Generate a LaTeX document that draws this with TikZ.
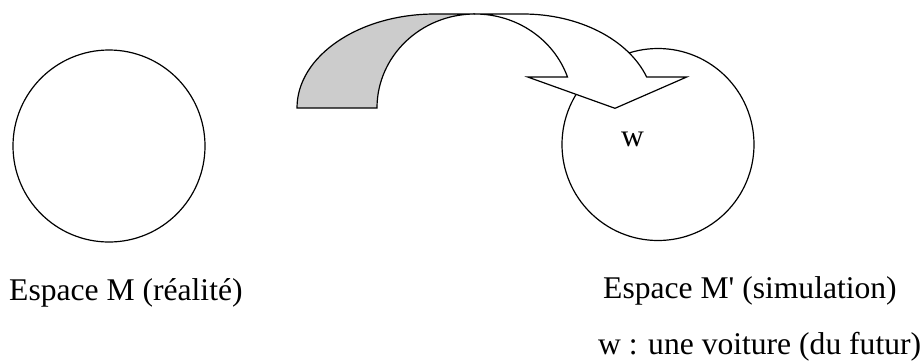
\documentclass[tikz,border=0pt]{standalone}
\usepackage{fontspec}
\setmainfont{Liberation Serif}
\definecolor{bandgrey}{RGB}{204,204,204}
\begin{document}
\begin{tikzpicture}[x=1pt,y=-1pt,
  outline/.style={draw=black,line width=1.2pt,line join=miter},
  space/.style={circle,draw=black,line width=1.2pt,minimum size=192pt,inner sep=0pt},
  label/.style={anchor=base west,inner sep=0pt,font=\fontsize{31.6pt}{38pt}\selectfont}]
\useasboundingbox (0,0) rectangle (922,360);
% spaces
\node[space] (M) at (109,146) {};
\node[space] (Mp) at (658,144.5) {};
% curved arrow: back (grey) band
\path[outline,fill=bandgrey] (297,108) arc[start angle=180,end angle=270,x radius=138,y radius=94]
  -- (475,14)
  arc[start angle=270,end angle=180,x radius=98,y radius=94] -- cycle;
% curved arrow: front (white) band with head
\path[outline,fill=white] (475,14) -- (523,14)
  arc[start angle=270,end angle=340.75,x radius=131,y radius=94]
  -- (686.7,77) -- (615,108.3) -- (527.7,77) -- (567.5,77)
  arc[start angle=340.75,end angle=270,x radius=98,y radius=94] -- cycle;
% texts
\node[label] (w) at (621,146) {w};
\node[label] (lM) at (9,300) {Espace M (réalité)};
\node[label] (lMp) at (603,298.5) {Espace M\textquotesingle{} (simulation)};
\node[label] (lw) at (598,354) {w : une voiture (du futur)};
\end{tikzpicture}
\end{document}
